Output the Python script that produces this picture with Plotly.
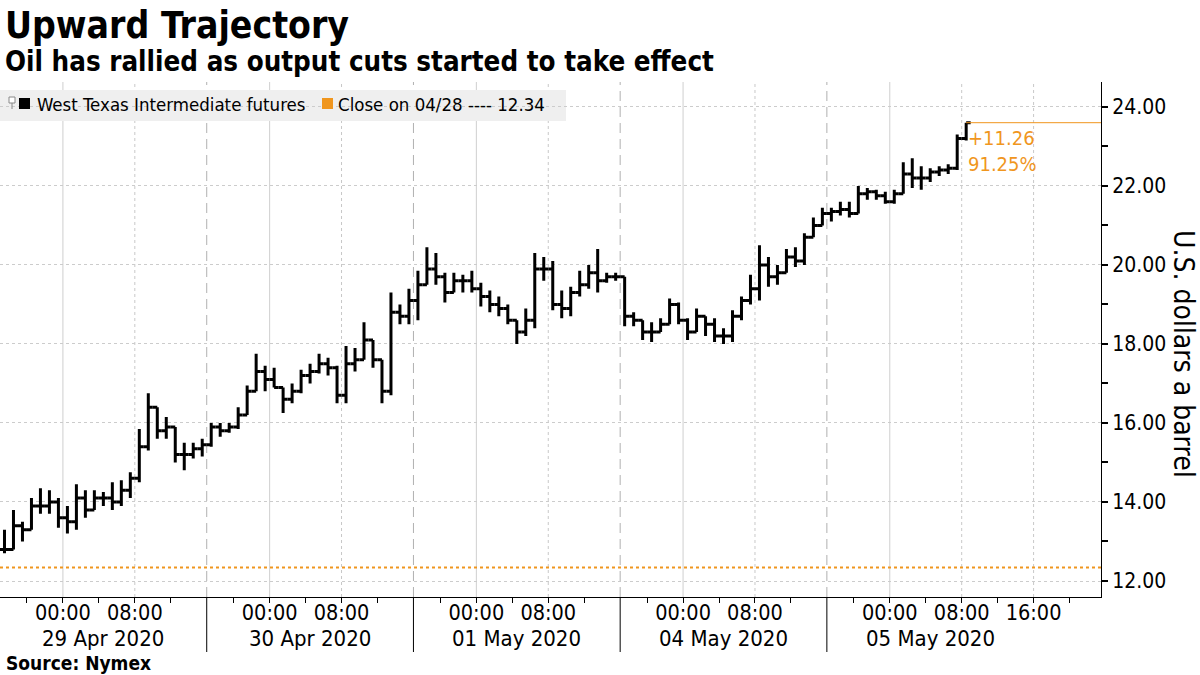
import plotly.graph_objects as go
import numpy as np

# ---------------- data ----------------
title = "Upward Trajectory"
subtitle = "Oil has rallied as output cuts started to take effect"
source = "Source: Nymex"
y_title = "U.S. dollars a barrel"
series_name = "West Texas Intermediate futures"
ref_label = "Close on 04/28 ---- 12.34"
prev_close = 12.34

session_labels = ["29 Apr 2020", "30 Apr 2020", "01 May 2020", "04 May 2020", "05 May 2020"]
SESSION_HOURS = 23          # Globex session 17:00 -> 16:00 CT
tick_offsets = [3, 7, 11, 15, 19]          # hours after 17:00 session open
tick_names = ["", "00:00", "", "08:00", ""]
last_extra_offsets = [23, 27]
last_extra_names = ["16:00", ""]

# hourly bars (trading hours) from 28 Apr 17:00 CT
opens = [12.8, 12.8, 13.4, 13.3, 13.9, 13.9, 14.0, 13.6, 13.5, 14.1, 13.8, 14.1, 14.1, 14.0, 14.3, 14.6,
         15.4, 16.4, 15.8, 15.9, 15.2, 15.2, 15.35,
         15.45, 15.9, 15.8, 15.9, 16.2, 16.8, 17.3, 17.1, 16.9, 16.6, 16.8, 17.2, 17.3, 17.5, 17.4, 16.7,
         17.5, 17.6, 18.1, 17.6, 16.8, 18.8, 18.7,
         19.1, 19.5, 19.9, 19.7, 19.3, 19.6, 19.6, 19.4, 19.2, 19.0, 18.9, 18.6, 18.3, 18.6, 19.9, 19.9,
         19.0, 18.9, 19.3, 19.5, 19.8, 19.6, 19.7,
         19.7, 18.7, 18.6, 18.3, 18.3, 18.5, 19.0, 18.6, 18.3, 18.7, 18.5, 18.2, 18.2, 18.7, 19.1, 19.4,
         20.0, 19.7, 19.8, 20.2, 20.1, 20.7, 21.0,
         21.3, 21.35, 21.4, 21.3, 21.8, 21.85, 21.75, 21.6, 21.8, 22.3, 22.2, 22.2, 22.35, 22.4, 22.45, 23.2]
highs = [13.3, 13.8, 13.5, 14.1, 14.35, 14.3, 14.1, 13.9, 14.45, 14.3, 14.3, 14.25, 14.5, 14.55, 14.75, 15.85,
         16.75, 16.4, 16.15, 15.9, 15.5, 15.5, 15.6,
         16.0, 16.0, 16.0, 16.4, 16.95, 17.75, 17.45, 17.4, 16.9, 17.0, 17.35, 17.5, 17.75, 17.65, 17.45, 17.95,
         17.9, 18.55, 18.1, 17.6, 19.3, 19.0, 19.4,
         19.85, 20.45, 20.3, 19.8, 19.8, 19.75, 19.85, 19.55, 19.35, 19.2, 19.0, 18.6, 18.9, 20.3, 20.2, 20.1,
         19.35, 19.45, 19.85, 20.0, 20.4, 19.8, 19.8,
         19.7, 18.8, 18.6, 18.55, 18.65, 19.15, 19.05, 18.65, 18.9, 18.7, 18.65, 18.4, 18.85, 19.2, 19.75,
         20.5, 20.2, 20.0, 20.4, 20.45, 20.8, 21.2, 21.45,
         21.45, 21.6, 21.6, 22.0, 21.95, 21.9, 21.85, 21.9, 22.6, 22.7, 22.5, 22.45, 22.5, 22.55, 23.3, 23.6]
lows = [12.7, 12.8, 13.0, 13.3, 13.7, 13.7, 13.35, 13.2, 13.3, 13.6, 13.8, 13.9, 13.8, 13.9, 14.1, 14.5,
        15.3, 15.6, 15.6, 15.0, 14.8, 15.1, 15.15,
        15.4, 15.65, 15.75, 15.85, 16.2, 16.8, 16.8, 16.9, 16.25, 16.5, 16.75, 17.0, 17.25, 17.2, 16.5, 16.5,
        17.3, 17.6, 17.4, 16.5, 16.7, 18.5, 18.5,
        18.6, 19.5, 19.5, 19.05, 19.3, 19.3, 19.3, 18.95, 18.8, 18.7, 18.5, 18.0, 18.2, 18.4, 19.6, 18.85,
        18.65, 18.7, 19.2, 19.4, 19.3, 19.55, 19.6,
        18.45, 18.45, 18.1, 18.05, 18.3, 18.5, 18.5, 18.1, 18.3, 18.2, 18.05, 18.0, 18.05, 18.6, 19.0,
        19.1, 19.45, 19.5, 19.8, 19.95, 20.0, 20.7, 21.0,
        21.1, 21.25, 21.2, 21.3, 21.65, 21.65, 21.55, 21.55, 21.8, 21.95, 21.9, 22.1, 22.25, 22.3, 22.4, 23.15]
closes = [12.8, 13.4, 13.3, 13.9, 13.9, 14.0, 13.6, 13.5, 14.1, 13.8, 14.1, 14.1, 14.0, 14.3, 14.6, 15.4,
          16.4, 15.8, 15.9, 15.2, 15.2, 15.35, 15.45,
          15.9, 15.8, 15.9, 16.2, 16.8, 17.3, 17.1, 16.9, 16.6, 16.8, 17.2, 17.3, 17.5, 17.4, 16.7, 17.5,
          17.6, 18.1, 17.6, 16.8, 18.8, 18.7, 19.1,
          19.5, 19.9, 19.7, 19.3, 19.6, 19.6, 19.4, 19.2, 19.0, 18.9, 18.6, 18.3, 18.6, 19.9, 19.9, 19.0,
          18.9, 19.3, 19.5, 19.8, 19.6, 19.7, 19.7,
          18.7, 18.6, 18.3, 18.3, 18.5, 19.0, 18.6, 18.3, 18.7, 18.5, 18.2, 18.2, 18.7, 19.1, 19.4,
          20.0, 19.7, 19.8, 20.2, 20.1, 20.7, 21.0, 21.3,
          21.35, 21.4, 21.3, 21.8, 21.85, 21.75, 21.6, 21.8, 22.3, 22.2, 22.2, 22.35, 22.4, 22.45, 23.2, 23.6]

# ---------------- layout constants ----------------
W, H = 1200, 675
ML, MR, MT, MB = 0, 99, 82, 78
PW, PH = W - ML - MR, H - MT - MB
X_MAX = 122.5
Y_RANGE = [11.595, 24.63]
ORANGE = "#f0961e"
TXT_FONT = "DejaVu Sans Condensed, DejaVu Sans, Liberation Sans"


def px(xp):
    return (xp - ML) / PW


def py(yp):
    return (H - MB - yp) / PH


x = np.arange(len(closes)) + 0.5
last_x = x[-1]

fig = go.Figure()
fig.add_trace(go.Ohlc(
    x=x, open=opens, high=highs, low=lows, close=closes,
    increasing=dict(line=dict(color="black", width=3)),
    decreasing=dict(line=dict(color="black", width=3)),
    tickwidth=0.5, showlegend=False, hoverinfo="skip"))

# x ticks
tickvals, ticktext = [], []
for d in range(len(session_labels)):
    for o, n in zip(tick_offsets, tick_names):
        tickvals.append(d * SESSION_HOURS + o)
        ticktext.append(n)
for o, n in zip(last_extra_offsets, last_extra_names):
    tickvals.append((len(session_labels) - 1) * SESSION_HOURS + o)
    ticktext.append(n)

shapes = []
# vertical grid lines
for d in range(len(session_labels)):
    s0 = d * SESSION_HOURS
    shapes.append(dict(type="line", xref="x", yref="paper", x0=s0 + 7, x1=s0 + 7, y0=0, y1=1,
                       line=dict(color="#cfcfcf", width=1), layer="below"))
    shapes.append(dict(type="line", xref="x", yref="paper", x0=s0 + 15, x1=s0 + 15, y0=0, y1=1,
                       line=dict(color="#c8c8c8", width=1, dash="dot"), layer="below"))
    if d > 0:
        shapes.append(dict(type="line", xref="x", yref="paper", x0=s0, x1=s0, y0=0, y1=1,
                           line=dict(color="#b0b0b0", width=1, dash="10px,6px"), layer="below"))
        shapes.append(dict(type="line", xref="x", yref="paper", x0=s0, x1=s0, y0=0, y1=py(652),
                           line=dict(color="black", width=1)))
s_last = (len(session_labels) - 1) * SESSION_HOURS
shapes.append(dict(type="line", xref="x", yref="paper", x0=s_last + 23, x1=s_last + 23, y0=0, y1=1,
                   line=dict(color="#c8c8c8", width=1, dash="dot"), layer="below"))

# reference close line
shapes.append(dict(type="line", xref="paper", yref="y", x0=0, x1=1, y0=prev_close, y1=prev_close,
                   line=dict(color=ORANGE, width=2, dash="dot")))
# last price line
shapes.append(dict(type="line", xref="x", yref="y", x0=last_x, x1=X_MAX, y0=closes[-1], y1=closes[-1],
                   line=dict(color=ORANGE, width=1)))

# legend box
shapes.append(dict(type="rect", xref="paper", yref="paper", x0=px(0), x1=px(566), y0=py(121), y1=py(90),
                   fillcolor="#efefef", line=dict(width=0), layer="below"))
shapes.append(dict(type="rect", xref="paper", yref="paper", x0=px(9), x1=px(15), y0=py(103), y1=py(97),
                   fillcolor="white", line=dict(color="#888888", width=1)))
shapes.append(dict(type="line", xref="paper", yref="paper", x0=px(12), x1=px(12), y0=py(109), y1=py(103),
                   line=dict(color="#888888", width=1)))
shapes.append(dict(type="rect", xref="paper", yref="paper", x0=px(19), x1=px(30), y0=py(109), y1=py(98),
                   fillcolor="black", line=dict(width=0)))
shapes.append(dict(type="rect", xref="paper", yref="paper", x0=px(322), x1=px(333), y0=py(109), y1=py(98),
                   fillcolor=ORANGE, line=dict(width=0)))

annotations = []
annotations.append(dict(text="<b>" + title + "</b>", xref="paper", yref="paper", x=px(3), y=py(26),
                        xanchor="left", yanchor="middle", showarrow=False,
                        font=dict(family=TXT_FONT, size=37, color="black")))
annotations.append(dict(text="<b>" + subtitle + "</b>", xref="paper", yref="paper", x=px(3), y=py(61),
                        xanchor="left", yanchor="middle", showarrow=False,
                        font=dict(family=TXT_FONT, size=27.5, color="black")))
annotations.append(dict(text="<b>" + source + "</b>", xref="paper", yref="paper", x=px(4), y=py(663),
                        xanchor="left", yanchor="middle", showarrow=False,
                        font=dict(family=TXT_FONT, size=19, color="black")))
annotations.append(dict(text=series_name, xref="paper", yref="paper", x=px(35), y=py(104),
                        xanchor="left", yanchor="middle", showarrow=False,
                        font=dict(family=TXT_FONT, size=18.5, color="black")))
annotations.append(dict(text=ref_label, xref="paper", yref="paper", x=px(336), y=py(104),
                        xanchor="left", yanchor="middle", showarrow=False,
                        font=dict(family=TXT_FONT, size=18.5, color="black")))
annotations.append(dict(text=y_title, xref="paper", yref="paper", x=px(1183), y=py(354),
                        xanchor="center", yanchor="middle", textangle=90, showarrow=False,
                        font=dict(family=TXT_FONT, size=28, color="black")))
chg = closes[-1] - prev_close
pct = chg / prev_close * 100
annotations.append(dict(text=f"+{chg:.2f}<br>{pct:.2f}%", xref="x", yref="y", x=last_x, y=closes[-1],
                        xanchor="left", yanchor="top", align="left", showarrow=False, xshift=0, yshift=-1,
                        font=dict(family=TXT_FONT, size=20, color=ORANGE)))
for d, lab in enumerate(session_labels):
    annotations.append(dict(text=lab, xref="x", yref="paper", x=d * SESSION_HOURS + SESSION_HOURS / 2,
                            y=py(638), xanchor="center", yanchor="middle", showarrow=False,
                            font=dict(family=TXT_FONT, size=22, color="black")))

fig.update_layout(
    width=W, height=H, margin=dict(l=ML, r=MR, t=MT, b=MB),
    paper_bgcolor="white", plot_bgcolor="white",
    shapes=shapes, annotations=annotations,
    xaxis=dict(range=[0, X_MAX], tickvals=tickvals, ticktext=ticktext, ticks="outside", ticklen=5,
               tickcolor="black", showgrid=False, zeroline=False, showline=True, linecolor="black",
               linewidth=1, rangeslider=dict(visible=False), ticklabelstandoff=-9,
               tickfont=dict(family=TXT_FONT, size=21.5, color="black")),
    yaxis=dict(range=Y_RANGE, side="right", dtick=2, tick0=12, tickformat=".2f", ticks="outside",
               ticklen=6, tickwidth=2, tickcolor="black", showgrid=True, gridcolor="#cccccc",
               griddash="dot", zeroline=False, showline=True, linecolor="black", linewidth=1,
               tickfont=dict(family=TXT_FONT, size=21, color="black"),
               minor=dict(dtick=1, tick0=12, ticks="outside", ticklen=6, tickcolor="black", showgrid=False)),
    showlegend=False,
)

fig.write_html("out.html")
